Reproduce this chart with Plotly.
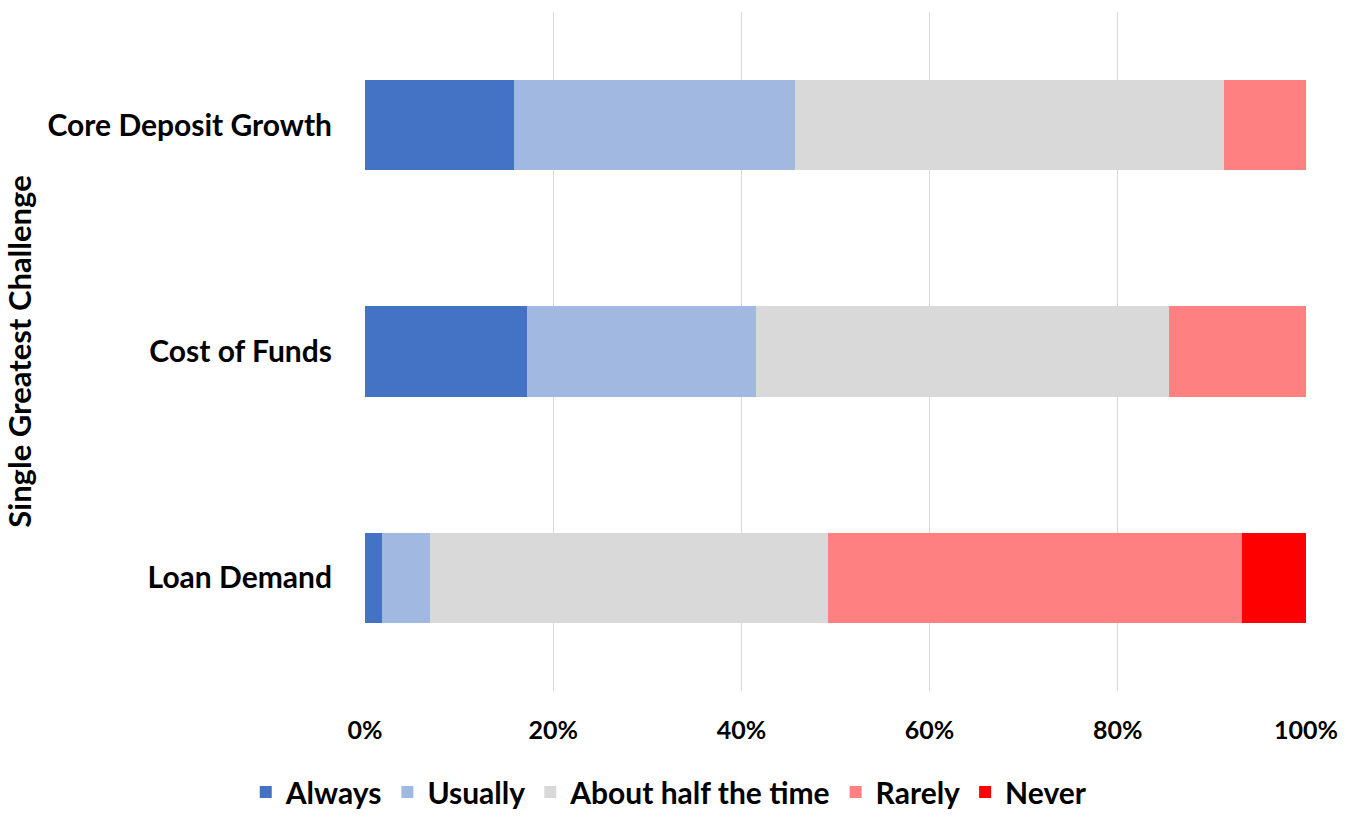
import plotly.graph_objects as go

categories = ["Core Deposit Growth", "Cost of Funds", "Loan Demand"]
series_names = ["Always", "Usually", "About half the time", "Rarely", "Never"]
always = [15.8, 17.2, 1.8]
usually = [29.9, 24.3, 5.1]
about_half = [45.6, 43.9, 42.3]
rarely = [8.7, 14.6, 44.0]
never = [0.0, 0.0, 6.8]
colors = ["#4472C4", "#A1B8E0", "#D9D9D9", "#FF8080", "#FF0000"]
x_ticks = [0, 20, 40, 60, 80, 100]
x_tick_labels = ["0%", "20%", "40%", "60%", "80%", "100%"]

values = [always, usually, about_half, rarely, never]
FONT = "Lato"

fig = go.Figure()
for name, vals, col in zip(series_names, values, colors):
    fig.add_trace(go.Bar(
        y=categories, x=vals, name=name, orientation="h",
        marker=dict(color=col, line=dict(width=0)),
    ))

fig.update_layout(
    barmode="stack",
    bargap=0.6,
    width=1352, height=818,
    margin=dict(l=365, r=46, t=12, b=127),
    paper_bgcolor="white", plot_bgcolor="white",
    font=dict(family=FONT, color="#000000"),
    legend=dict(
        orientation="h", xref="container", yref="container",
        x=0.495, xanchor="center", y=-0.008, yanchor="bottom",
        font=dict(size=30, family=FONT, weight="bold", color="#000000"),
        itemwidth=30, traceorder="normal",
    ),
    xaxis=dict(
        range=[0, 100], tickvals=x_ticks, ticktext=x_tick_labels,
        showgrid=True, gridcolor="#D9D9D9", gridwidth=1,
        zeroline=False, showline=False, ticks="",
        tickfont=dict(size=25, family=FONT, weight="bold", color="#000000"),
        ticklabelstandoff=22,
    ),
    yaxis=dict(
        categoryorder="array", categoryarray=categories[::-1],
        showgrid=False, zeroline=False, showline=False, ticks="",
        tickfont=dict(size=30, family=FONT, weight="bold", color="#000000"),
        ticklabelstandoff=32,
        title=dict(text="Single Greatest Challenge",
                   font=dict(size=31, family=FONT, weight="bold", color="#000000"),
                   standoff=8),
    ),
)

fig.write_html("out.html")
